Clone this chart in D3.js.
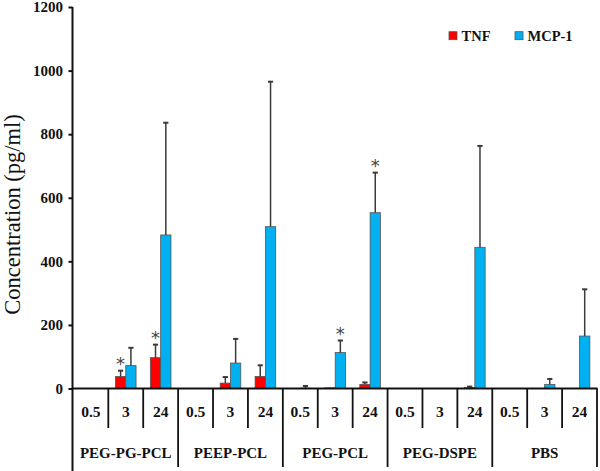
<!DOCTYPE html>
<html>
<head>
<meta charset="utf-8">
<script src="https://cdn.jsdelivr.net/npm/d3@7"></script>
<style>
  html, body { margin: 0; padding: 0; background: #fff; }
  svg { display: block; }
</style>
</head>
<body>
<div id="chart"></div>
<script>
const groups = ["PEG-PG-PCL", "PEEP-PCL", "PEG-PCL", "PEG-DSPE", "PBS"];
const times = ["0.5", "3", "24"];
const seriesNames = ["TNF", "MCP-1"];
const tnf    = [0, 38, 97,   0, 17, 38,   0, 2, 13,   0, 0, 3,     0, 0, 0];
const tnfErr = [0, 18, 41,   0, 19, 35,   0, 0, 6,    0, 0, 3,     0, 0, 0];
const mcp    = [0, 72, 483,  0, 80, 509,  1, 113, 553, 0, 0, 444,  0, 13, 165];
const mcpErr = [0, 56, 353,  0, 76, 456,  7, 38, 126,  0, 0, 319,  0, 17, 147];
const yTicks = [0, 200, 400, 600, 800, 1000, 1200];
const significant = [
  { slot: 1, series: "TNF" },
  { slot: 2, series: "TNF" },
  { slot: 7, series: "MCP-1" },
  { slot: 8, series: "MCP-1" }
];

const W = 600, H = 471;
const colors = { "TNF": "#ff0000", "MCP-1": "#00b0f0" };
const serif = "'Liberation Serif', 'Times New Roman', serif";

const svg = d3.select("#chart").append("svg").attr("width", W).attr("height", H);

const slots = [];
groups.forEach(g => times.forEach(t => slots.push(g + "|" + t)));

const x = d3.scaleBand().domain(slots).range([73.4, 597]).padding(0);
const y = d3.scaleLinear().domain([0, 1200]).range([388.5, 7]);
const axisX = 72.5;
const barW = 10.3;

const records = [];
slots.forEach((s, i) => {
  records.push({ slot: s, i, series: "TNF", v: tnf[i], e: tnfErr[i] });
  records.push({ slot: s, i, series: "MCP-1", v: mcp[i], e: mcpErr[i] });
});
const barX = d => x(d.slot) + x.bandwidth() / 2 + (d.series === "TNF" ? -barW : 0);

// Bars
svg.append("g").selectAll("rect").data(records.filter(d => d.v > 0)).join("rect")
  .attr("x", barX)
  .attr("y", d => y(d.v))
  .attr("width", barW)
  .attr("height", d => y(0) - y(d.v))
  .attr("fill", d => colors[d.series])
  .attr("stroke", "#555")
  .attr("stroke-width", 0.8);

// Error bars (upper only)
const eb = svg.append("g").attr("stroke", "#3a3a3a");
records.filter(d => d.e > 0).forEach(d => {
  const cx = barX(d) + barW / 2;
  eb.append("line").attr("x1", cx).attr("x2", cx)
    .attr("y1", y(d.v)).attr("y2", y(d.v + d.e)).attr("stroke-width", 1.5);
  eb.append("line").attr("x1", cx - 2.6).attr("x2", cx + 2.6)
    .attr("y1", y(d.v + d.e)).attr("y2", y(d.v + d.e)).attr("stroke-width", 2);
});

// Asterisks
significant.forEach(s => {
  const i = s.slot;
  const d = records.find(r => r.i === i && r.series === s.series);
  const cx = barX(d) + barW / 2;
  svg.append("text")
    .attr("x", cx)
    .attr("y", y(d.v + d.e) - 11 + 10.5)
    .attr("text-anchor", "middle")
    .attr("font-family", "'DejaVu Sans', sans-serif")
    .attr("font-size", 18)
    .attr("fill", "#444")
    .text("*");
});

// Y axis
const yAxis = d3.axisLeft(y).tickValues(yTicks).tickFormat(d3.format("d")).tickSize(4).tickPadding(5.5);
const yg = svg.append("g").attr("transform", `translate(${axisX},0)`).call(yAxis);
yg.select(".domain").remove();
yg.selectAll(".tick line").attr("stroke", "#111").attr("stroke-width", 2);
yg.selectAll(".tick text")
  .attr("font-family", serif).attr("font-weight", "bold")
  .attr("font-size", 15).attr("fill", "#111");

// Axis lines
svg.append("line").attr("x1", axisX).attr("x2", axisX).attr("y1", y(1200)).attr("y2", H)
  .attr("stroke", "#111").attr("stroke-width", 2);
svg.append("line").attr("x1", axisX).attr("x2", 597.5).attr("y1", y(0)).attr("y2", y(0))
  .attr("stroke", "#111").attr("stroke-width", 2);

// Separators
slots.forEach((s, i) => {
  if (i === 0) return;
  const xx = x(s);
  const isGroup = i % 3 === 0;
  svg.append("line").attr("x1", xx).attr("x2", xx)
    .attr("y1", y(0)).attr("y2", isGroup ? 467 : 428)
    .attr("stroke", "#111").attr("stroke-width", 1.8);
});
svg.append("line").attr("x1", 597).attr("x2", 597).attr("y1", y(0)).attr("y2", 467)
  .attr("stroke", "#111").attr("stroke-width", 1.8);

// Time labels
svg.append("g").selectAll("text").data(slots).join("text")
  .attr("x", d => x(d) + x.bandwidth() / 2)
  .attr("y", 417)
  .attr("text-anchor", "middle")
  .attr("font-family", serif).attr("font-weight", "bold").attr("font-size", 15.5)
  .attr("fill", "#111")
  .text(d => d.split("|")[1]);

// Group labels
svg.append("g").selectAll("text").data(groups).join("text")
  .attr("x", (g, gi) => (x(slots[gi * 3]) + x(slots[gi * 3 + 2]) + x.bandwidth()) / 2)
  .attr("y", 458.3)
  .attr("text-anchor", "middle")
  .attr("font-family", serif).attr("font-weight", "bold").attr("font-size", 15)
  .attr("fill", "#111")
  .text(d => d);

// Y title
svg.append("text")
  .attr("transform", "translate(19.5,214.5) rotate(-90)")
  .attr("text-anchor", "middle")
  .attr("font-family", serif).attr("font-size", 22.5)
  .attr("fill", "#111")
  .text("Concentration (pg/ml)");

// Legend
const legendPos = [{ name: "TNF", x: 449 }, { name: "MCP-1", x: 515 }];
legendPos.forEach(l => {
  svg.append("rect").attr("x", l.x).attr("y", 31.7).attr("width", 8).attr("height", 8)
    .attr("fill", colors[l.name]).attr("stroke", "#555").attr("stroke-width", 0.8);
  svg.append("text").attr("x", l.x + 12.5).attr("y", 40.7)
    .attr("font-family", serif).attr("font-weight", "bold").attr("font-size", 14.5)
    .attr("fill", "#111").text(l.name);
});
</script>
</body>
</html>
